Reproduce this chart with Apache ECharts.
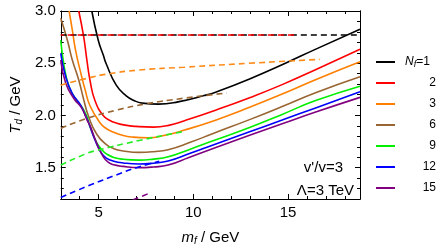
<!DOCTYPE html>
<html>
<head>
<meta charset="utf-8">
<script src="https://cdn.jsdelivr.net/npm/echarts@6/dist/echarts.min.js"></script>
<style>html,body{margin:0;padding:0;background:#fff;}#c{width:440px;height:252px;}</style>
</head>
<body>
<div id="c"></div>
<script>
// ---- data ----
const legendNames = ['1', '2', '3', '6', '9', '12', '15'];
const solidColors = ['#000000', '#ff0000', '#ff8000', '#996633', '#00ee00', '#0000ff', '#800080'];

const nf1 = [[4.64,3.0],[4.98,2.72],[5.24,2.58],[5.41,2.49],[5.93,2.29],[6.44,2.19],[6.9,2.14],[7.3,2.118],[8.16,2.108],[9.19,2.13],[10.57,2.19],[11.25,2.228],[12.97,2.35],[14.86,2.5],[16.41,2.63],[18.8,2.825]];
const nf2 = [[3.95,3.0],[4.21,2.754],[4.38,2.53],[4.55,2.33],[4.81,2.14],[5.24,2.0],[5.6,1.952],[5.93,1.928],[6.4,1.907],[6.96,1.895],[7.9,1.888],[8.7,1.905],[9.54,1.95],[11.17,2.05],[12.97,2.17],[14.69,2.295],[16.42,2.435],[18.8,2.633]];
const nf3 = [[3.44,3.0],[3.61,2.82],[3.78,2.626],[4.04,2.42],[4.29,2.243],[4.55,2.09],[5.07,1.93],[5.4,1.875],[5.76,1.842],[6.3,1.808],[6.79,1.793],[7.6,1.786],[8.5,1.81],[9.54,1.86],[11.17,1.955],[12.97,2.078],[14.69,2.205],[16.42,2.34],[18.8,2.514]];
const nf6 = [[3.0,2.93],[3.35,2.72],[3.61,2.53],[3.95,2.34],[4.2,2.16],[4.47,1.99],[4.9,1.82],[5.41,1.72],[5.8,1.682],[6.3,1.66],[7.13,1.646],[7.9,1.653],[8.67,1.672],[9.8,1.74],[11.08,1.83],[12.97,1.96],[14.69,2.085],[16.42,2.215],[18.8,2.37]];
const nf9 = [[3.0,2.72],[3.18,2.47],[3.44,2.275],[3.78,2.16],[4.12,2.08],[4.38,1.99],[4.55,1.89],[4.9,1.74],[5.2,1.665],[5.41,1.632],[5.8,1.598],[6.3,1.58],[7.13,1.572],[7.9,1.582],[8.67,1.604],[9.8,1.675],[11.08,1.76],[12.97,1.885],[14.69,2.01],[16.42,2.14],[18.8,2.28]];
const nf12 = [[3.0,2.595],[3.26,2.37],[3.61,2.21],[4.04,2.1],[4.3,2.0],[4.47,1.93],[4.81,1.765],[5.15,1.638],[5.41,1.592],[5.8,1.562],[6.3,1.545],[7.13,1.535],[7.9,1.543],[8.67,1.563],[9.8,1.635],[11.08,1.72],[12.97,1.844],[14.69,1.956],[16.42,2.07],[18.8,2.227]];
const nf15 = [[3.0,2.53],[3.26,2.31],[3.7,2.16],[4.12,2.068],[4.38,1.96],[4.55,1.9],[4.9,1.733],[5.24,1.605],[5.5,1.552],[5.8,1.528],[6.3,1.512],[7.13,1.5],[7.9,1.507],[8.67,1.525],[9.8,1.6],[11.08,1.685],[12.97,1.81],[14.69,1.92],[16.42,2.03],[18.8,2.173]];

const dashBlack  = [[3.0,2.77],[18.8,2.77]];
const dashRed    = [[3.0,2.77],[15.4,2.77]];
const dashOrange = [[3.0,2.29],[4.38,2.355],[5.41,2.395],[7.13,2.435],[9.54,2.462],[12.97,2.5],[16.67,2.537]];
const dashBrown  = [[3.0,1.876],[4.38,1.972],[5.93,2.05],[7.47,2.11],[9.5,2.165],[11.77,2.215]];
const dashGreen  = [[3.0,1.525],[4.38,1.637],[4.9,1.665],[7.13,1.76],[9.6,1.85]];
const dashBlue   = [[3.0,1.215],[4.55,1.333],[5.93,1.43],[7.0,1.5],[8.2,1.56]];
const dashPurple = [[6.8,1.19],[7.6,1.25]];

const xMajorTicks = [5, 10, 15];
const xMinorTicks = [3,4,6,7,8,9,11,12,13,14,16,17,18];
const yMajorTicks = [1.5, 2.0, 2.5, 3.0];
const yMinorTicks = [1.2,1.3,1.4,1.6,1.7,1.8,1.9,2.1,2.2,2.3,2.4,2.6,2.7,2.8,2.9];

// ---- chart ----
const FONT = '"Liberation Sans", Arial, sans-serif';
const chart = echarts.init(document.getElementById('c'), null, {renderer: 'canvas'});
const X0 = 3, X1 = 18.8, Y0 = 1.2, Y1 = 3.0;

const nameRich = {
  i: {fontStyle: 'italic', fontSize: 15, fontFamily: FONT, color:'#000'},
  s: {fontStyle: 'italic', fontSize: 10, fontFamily: FONT, color:'#000', padding: [7,0,0,0]},
  n: {fontSize: 15, fontFamily: FONT, color:'#000'}
};
function xAx(pos, ticks, len, labels, name) {
  return {
    type: 'value', position: pos, min: X0, max: X1, gridIndex: 0,
    splitLine: {show: false},
    axisLine: {show: !!labels || pos === 'top', onZero: false, lineStyle: {color: '#000', width: 1}},
    axisTick: {show: true, inside: true, length: len, customValues: ticks, lineStyle: {color: '#000', width: 1}},
    axisLabel: labels ? {show: true, customValues: ticks, margin: 6, color: '#000', fontSize: 15, fontFamily: FONT} : {show: false},
    name: name || '', nameLocation: 'middle', nameGap: 30,
    nameTextStyle: {color: '#000', fontSize: 15, fontFamily: FONT, rich: nameRich}
  };
}
function yAx(pos, ticks, len, labels, name) {
  return {
    type: 'value', position: pos, min: Y0, max: Y1, gridIndex: 0,
    splitLine: {show: false},
    axisLine: {show: !!labels || pos === 'right', onZero: false, lineStyle: {color: '#000', width: 1}},
    axisTick: {show: true, inside: true, length: len, customValues: ticks, lineStyle: {color: '#000', width: 1}},
    axisLabel: labels ? {show: true, customValues: ticks, margin: 5, color: '#000', fontSize: 15, fontFamily: FONT,
      formatter: v => v.toFixed(1)} : {show: false},
    name: name || '', nameLocation: 'middle', nameGap: 30, nameRotate: 90,
    nameTextStyle: {color: '#000', fontSize: 15, fontFamily: FONT, rich: nameRich}
  };
}

const solidData = [nf1, nf2, nf3, nf6, nf9, nf12, nf15];
const series = [];
solidData.forEach((d, i) => {
  series.push({
    name: legendNames[i], type: 'line', data: d, showSymbol: false, symbol: 'none',
    smooth: 0.5, clip: true, z: 3,
    lineStyle: {color: solidColors[i], width: 1.6}, itemStyle: {color: solidColors[i]}
  });
});
const dashed = [
  [dashOrange, '#ff8c1a', 0], [dashBrown, '#996633', 0], [dashGreen, '#22ee22', 0],
  [dashBlue, '#0000ff', 0], [dashPurple, '#800080', 0], [dashBlack, '#000000', 0], [dashRed, '#ff0000', 3]
];
dashed.forEach(([d, c, off], k) => {
  series.push({
    name: 'dash' + k, type: 'line', data: d, showSymbol: false, symbol: 'none',
    smooth: 0.5, clip: true, z: 4, silent: true,
    lineStyle: {color: c, width: 1.6, type: [6, 4], dashOffset: off},
    itemStyle: {color: c}
  });
});

const legendRich = {
  N: {fontStyle: 'italic', fontSize: 12, fontFamily: FONT, color: '#000', padding: [0,0,0,5]},
  f: {fontStyle: 'italic', fontSize: 9, fontFamily: FONT, color: '#000', padding: [5,0,0,0]},
  e: {fontSize: 12, fontFamily: FONT, color: '#000'},
  num: {fontSize: 12, fontFamily: FONT, color: '#000', width: 36, align: 'right'}
};

chart.setOption({
  animation: false,
  backgroundColor: '#fff',
  grid: {left: 53, right: 80, top: 11, bottom: 53, containLabel: false},
  xAxis: [
    xAx('bottom', xMajorTicks, 5, true, '{i|m}{s|f}{n| / GeV}'),
    xAx('bottom', xMinorTicks, 3, false),
    xAx('top', xMajorTicks, 5, false),
    xAx('top', xMinorTicks, 3, false)
  ],
  yAxis: [
    yAx('left', yMajorTicks, 5, true, '{i|T}{s|d}{n| / GeV}'),
    yAx('left', yMinorTicks, 3, false),
    yAx('right', yMajorTicks, 5, false),
    yAx('right', yMinorTicks, 3, false)
  ],
  legend: {
    data: legendNames, orient: 'vertical', left: 376, top: 55, padding: 0,
    icon: 'rect', itemWidth: 19, itemHeight: 2, itemGap: 7,
    selectedMode: false,
    textStyle: {fontSize: 12, fontFamily: FONT, color: '#000', lineHeight: 14, rich: legendRich},
    formatter: n => n === '1' ? '{N|N}{f|f}{e|=1}' : '{num|' + n + '}'
  },
  graphic: [
    {type: 'text', x: 343, y: 168, style: {text: "v'/v=3", font: '15px ' + FONT, fill: '#000', align: 'right', verticalAlign: 'middle'}},
    {type: 'text', x: 354, y: 191, style: {text: 'Λ=3 TeV', font: '15px ' + FONT, fill: '#000', align: 'right', verticalAlign: 'middle'}}
  ],
  series: series
});
</script>
</body>
</html>
